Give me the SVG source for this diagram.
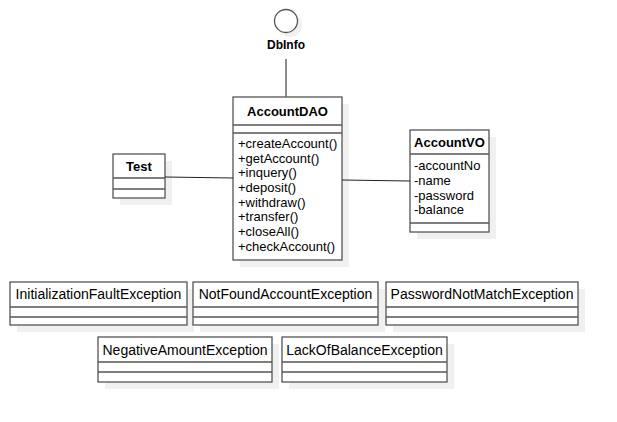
<svg xmlns="http://www.w3.org/2000/svg" width="617" height="422" viewBox="0 0 617 422">
<style>
.box{fill:#ffffff;stroke:#555555;stroke-width:1.3}
.sh{fill:#f0f0f0}
.sep{stroke:#555555;stroke-width:1.3}
.t{font-family:"Liberation Sans",Arial,sans-serif;font-size:13px;fill:#000}
.b{font-weight:bold;text-anchor:middle}
.e{font-size:14px;text-anchor:middle}
.c{stroke:#222;stroke-width:1;fill:none}
</style>
<rect width="617" height="422" fill="#ffffff"/>
<g id="DbInfo">
<circle class="sh" cx="290" cy="25" r="12"/>
<circle cx="286" cy="21" r="11.5" fill="#fff" stroke="#555" stroke-width="1.3"/>
<text class="t b" x="286" y="49" style="font-size:12px">DbInfo</text>
</g>
<g id="AccountDAO">
<rect class="sh" x="240" y="104" width="109" height="163"/>
<rect class="box" x="233" y="97" width="109" height="163"/>
<line class="sep" x1="233" y1="125" x2="342" y2="125"/>
<line class="sep" x1="233" y1="133" x2="342" y2="133"/>
<text class="t b" x="287.5" y="116">AccountDAO</text>
<text class="t" x="238" y="148">+createAccount()</text>
<text class="t" x="238" y="163">+getAccount()</text>
<text class="t" x="238" y="177">+inquery()</text>
<text class="t" x="238" y="192">+deposit()</text>
<text class="t" x="238" y="207">+withdraw()</text>
<text class="t" x="238" y="221">+transfer()</text>
<text class="t" x="238" y="236">+closeAll()</text>
<text class="t" x="238" y="251">+checkAccount()</text>
</g>
<g id="Test">
<rect class="sh" x="120" y="161" width="52" height="44"/>
<rect class="box" x="113" y="154" width="52" height="44"/>
<line class="sep" x1="113" y1="178" x2="165" y2="178"/>
<line class="sep" x1="113" y1="189" x2="165" y2="189"/>
<text class="t b" x="139" y="171">Test</text>
</g>
<g id="AccountVO">
<rect class="sh" x="417" y="137" width="79" height="102"/>
<rect class="box" x="410" y="130" width="79" height="102"/>
<line class="sep" x1="410" y1="154" x2="489" y2="154"/>
<line class="sep" x1="410" y1="223" x2="489" y2="223"/>
<text class="t b" x="449.5" y="147">AccountVO</text>
<text class="t" x="414" y="170">-accountNo</text>
<text class="t" x="414" y="185">-name</text>
<text class="t" x="414" y="200">-password</text>
<text class="t" x="414" y="214">-balance</text>
</g>
<g id="InitializationFaultException">
<rect class="sh" x="17" y="289" width="177" height="43"/>
<rect class="box" x="10" y="282" width="177" height="43"/>
<line class="sep" x1="10" y1="307" x2="187" y2="307"/>
<line class="sep" x1="10" y1="317" x2="187" y2="317"/>
<text class="t e" x="98.5" y="299">InitializationFaultException</text>
</g>
<g id="NotFoundAccountException">
<rect class="sh" x="200" y="289" width="185" height="43"/>
<rect class="box" x="193" y="282" width="185" height="43"/>
<line class="sep" x1="193" y1="307" x2="378" y2="307"/>
<line class="sep" x1="193" y1="317" x2="378" y2="317"/>
<text class="t e" x="285.5" y="299">NotFoundAccountException</text>
</g>
<g id="PasswordNotMatchException">
<rect class="sh" x="393" y="289" width="192" height="43"/>
<rect class="box" x="386" y="282" width="192" height="43"/>
<line class="sep" x1="386" y1="307" x2="578" y2="307"/>
<line class="sep" x1="386" y1="317" x2="578" y2="317"/>
<text class="t e" x="482" y="299">PasswordNotMatchException</text>
</g>
<g id="NegativeAmountException">
<rect class="sh" x="105" y="344" width="174" height="45"/>
<rect class="box" x="98" y="337" width="174" height="45"/>
<line class="sep" x1="98" y1="362" x2="272" y2="362"/>
<line class="sep" x1="98" y1="372" x2="272" y2="372"/>
<text class="t e" x="185" y="355">NegativeAmountException</text>
</g>
<g id="LackOfBalanceException">
<rect class="sh" x="289" y="344" width="165" height="45"/>
<rect class="box" x="282" y="337" width="165" height="45"/>
<line class="sep" x1="282" y1="362" x2="447" y2="362"/>
<line class="sep" x1="282" y1="372" x2="447" y2="372"/>
<text class="t e" x="364.5" y="355">LackOfBalanceException</text>
</g>
<g id="connectors">
<line class="c" x1="286" y1="59" x2="286" y2="97" style="stroke:#666;stroke-width:1.5"/>
<line class="c" x1="165" y1="177" x2="233" y2="178"/>
<line class="c" x1="342" y1="180" x2="410" y2="181"/>
</g>
</svg>
